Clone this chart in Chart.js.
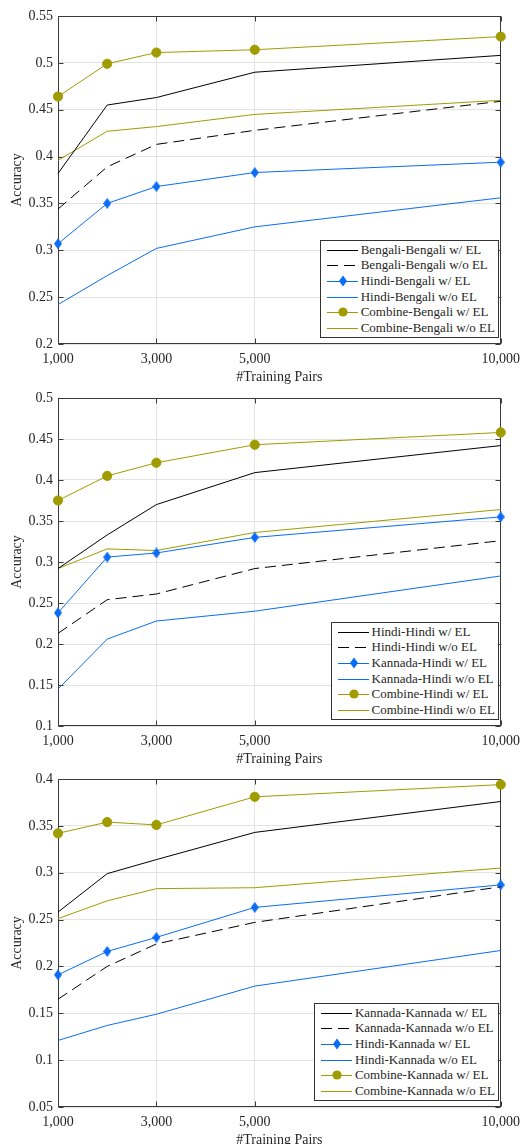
<!DOCTYPE html>
<html>
<head>
<meta charset="utf-8">
<script src="https://cdn.jsdelivr.net/npm/chart.js@4.4.1/dist/chart.umd.min.js"></script>
<style>
    html, body { margin: 0; padding: 0; background: #fff; }
    #wrap { position: relative; width: 527px; height: 1144px; overflow: hidden; }
    .panel { position: absolute; left: 0; width: 527px; height: 386px; }
    .panel canvas { position: absolute; left: 0; top: 0; }
    .legend {
        position: absolute; right: 28px; top: 240px;
        background: #fff; border: 1px solid #333;
        padding: 1px 3px 1px 6px;
        font: 13px "Liberation Serif", "Times New Roman", serif; color: #262626;
    }
    .legend .row { display: flex; align-items: center; height: 15.6px; white-space: nowrap; }
    .legend svg { flex: none; margin-right: 2px; }
</style>
</head>
<body>
<div id="wrap">
    <div class="panel" style="top:0"><canvas id="chart1" width="527" height="386"></canvas><div class="legend" id="legend1"></div></div>
    <div class="panel" style="top:382px"><canvas id="chart2" width="527" height="386"></canvas><div class="legend" id="legend2"></div></div>
    <div class="panel" style="top:763px"><canvas id="chart3" width="527" height="386"></canvas><div class="legend" id="legend3"></div></div>
</div>
<script>
const trainPairs = [1000, 2000, 3000, 5000, 10000];
const xTicks = [1000, 3000, 5000, 10000];

// Bengali
const bnBnEL   = [0.382, 0.455, 0.463, 0.490, 0.508];
const bnBnNoEL = [0.344, 0.389, 0.413, 0.428, 0.459];
const hiBnEL   = [0.307, 0.350, 0.368, 0.383, 0.394];
const hiBnNoEL = [0.242, 0.273, 0.302, 0.325, 0.356];
const coBnEL   = [0.464, 0.499, 0.511, 0.514, 0.528];
const coBnNoEL = [0.396, 0.427, 0.432, 0.445, 0.460];

// Hindi
const hiHiEL   = [0.292, 0.333, 0.370, 0.409, 0.442];
const hiHiNoEL = [0.213, 0.254, 0.261, 0.292, 0.326];
const knHiEL   = [0.238, 0.306, 0.311, 0.330, 0.355];
const knHiNoEL = [0.145, 0.206, 0.228, 0.240, 0.283];
const coHiEL   = [0.375, 0.405, 0.421, 0.443, 0.458];
const coHiNoEL = [0.292, 0.316, 0.314, 0.336, 0.364];

// Kannada
const knKnEL   = [0.258, 0.299, 0.314, 0.343, 0.376];
const knKnNoEL = [0.165, 0.200, 0.224, 0.247, 0.285];
const hiKnEL   = [0.191, 0.216, 0.231, 0.263, 0.287];
const hiKnNoEL = [0.121, 0.137, 0.149, 0.179, 0.217];
const coKnEL   = [0.342, 0.354, 0.351, 0.381, 0.394];
const coKnNoEL = [0.251, 0.270, 0.283, 0.284, 0.305];

const yRanges = [[0.2, 0.55], [0.1, 0.5], [0.05, 0.4]];

const BLACK = '#000000';
const BLUE = '#0a6cf5';
const OLIVE = '#a09c00';
const TEXT = '#262626';
const AXIS = '#3a3a3a';
const GRID = '#e4e4e4';
const FONT = '"Liberation Serif", "Times New Roman", serif';
const DASH = [11, 6];

function makeDiamond(color) {
    const c = document.createElement('canvas');
    c.width = 8; c.height = 11;
    const g = c.getContext('2d');
    g.fillStyle = color;
    g.beginPath();
    g.moveTo(4, 0); g.lineTo(8, 5.5); g.lineTo(4, 11); g.lineTo(0, 5.5);
    g.closePath();
    g.fill();
    return c;
}
const diamond = makeDiamond(BLUE);

// kind: 'solid' | 'dash' | 'diamond' | 'circle'
function series(label, data, color, kind) {
    const ds = {
        label: label,
        kind: kind,
        data: data.map((v, i) => ({ x: trainPairs[i], y: v })),
        borderColor: color,
        backgroundColor: color,
        borderWidth: 1,
        pointRadius: 0,
        tension: 0,
        clip: false
    };
    if (kind === 'dash') ds.borderDash = DASH;
    if (kind === 'diamond') { ds.pointStyle = diamond; ds.pointRadius = 5; }
    if (kind === 'circle') { ds.pointStyle = 'circle'; ds.pointRadius = 4.6; }
    return ds;
}

const boxPlugin = {
    id: 'box',
    beforeDatasetsDraw(chart) {
        const { ctx, chartArea: a, scales: { x, y } } = chart;
        const L = Math.round(a.left) + 0.5, R = Math.round(a.right) - 0.5;
        const T = Math.round(a.top) + 0.5, B = Math.round(a.bottom) - 0.5;
        ctx.save();
        ctx.strokeStyle = AXIS;
        ctx.lineWidth = 1;
        ctx.strokeRect(L, T, R - L, B - T);
        ctx.beginPath();
        y.ticks.forEach(t => {
            const py = Math.round(y.getPixelForValue(t.value)) + 0.5;
            ctx.moveTo(L, py); ctx.lineTo(L + 5, py);
            ctx.moveTo(R, py); ctx.lineTo(R - 5, py);
        });
        x.ticks.forEach(t => {
            const px = Math.round(x.getPixelForValue(t.value)) + 0.5;
            ctx.moveTo(px, B); ctx.lineTo(px, B - 5);
            ctx.moveTo(px, T); ctx.lineTo(px, T + 5);
        });
        ctx.stroke();
        ctx.restore();
    }
};

function renderChart(id, datasets, yRange) {
    const ctx = document.getElementById(id).getContext('2d');
    return new Chart(ctx, {
        type: 'line',
        data: { datasets: datasets },
        plugins: [boxPlugin],
        options: {
            responsive: false,
            animation: false,
            devicePixelRatio: 1,
            layout: { padding: { top: 16, right: 21, left: 0, bottom: 0 } },
            plugins: { legend: { display: false }, tooltip: { enabled: false } },
            scales: {
                x: {
                    type: 'linear',
                    min: trainPairs[0],
                    max: trainPairs[trainPairs.length - 1],
                    afterBuildTicks: scale => { scale.ticks = xTicks.map(v => ({ value: v })); },
                    afterFit: scale => { scale.height = 386 - 344; },
                    grid: { color: GRID, drawTicks: false },
                    border: { display: false },
                    ticks: {
                        color: TEXT, padding: 7, maxRotation: 0, autoSkip: false,
                        font: { family: FONT, size: 14 },
                        callback: v => v.toLocaleString('en-US')
                    },
                    title: {
                        display: true, text: '#Training Pairs', color: TEXT,
                        font: { family: FONT, size: 14 }, padding: { top: 0, bottom: 0 }
                    }
                },
                y: {
                    min: yRange[0],
                    max: yRange[1],
                    afterFit: scale => { scale.width = 58; },
                    grid: { color: GRID, drawTicks: false },
                    border: { display: false },
                    ticks: {
                        color: TEXT, padding: 5, stepSize: 0.05,
                        font: { family: FONT, size: 14 },
                        callback: v => String(+v.toFixed(2))
                    },
                    title: {
                        display: true, text: 'Accuracy', color: TEXT,
                        font: { family: FONT, size: 14 }, padding: { top: 9, bottom: 0 }
                    }
                }
            }
        }
    });
}

function renderLegend(id, datasets) {
    const container = document.getElementById(id);
    container.innerHTML = datasets.map(ds => {
        const c = ds.borderColor;
        let mark = '';
        if (ds.kind === 'diamond') mark = `<polygon points="16,2.5 20,8 16,13.5 12,8" fill="${c}"/>`;
        if (ds.kind === 'circle') mark = `<circle cx="16" cy="8" r="4.6" fill="${c}"/>`;
        const dash = ds.kind === 'dash' ? ` stroke-dasharray="${DASH.join(' ')}"` : '';
        return `
        <div class="row">
            <svg width="32" height="16"><line x1="0" y1="8.5" x2="31" y2="8.5" stroke="${c}" stroke-width="1"${dash}/>${mark}</svg>
            <span>${ds.label}</span>
        </div>`;
    }).join('');
}

const bengali = [
    series('Bengali-Bengali w/ EL', bnBnEL, BLACK, 'solid'),
    series('Bengali-Bengali w/o EL', bnBnNoEL, BLACK, 'dash'),
    series('Hindi-Bengali w/ EL', hiBnEL, BLUE, 'diamond'),
    series('Hindi-Bengali w/o EL', hiBnNoEL, BLUE, 'solid'),
    series('Combine-Bengali w/ EL', coBnEL, OLIVE, 'circle'),
    series('Combine-Bengali w/o EL', coBnNoEL, OLIVE, 'solid')
];
const hindi = [
    series('Hindi-Hindi w/ EL', hiHiEL, BLACK, 'solid'),
    series('Hindi-Hindi w/o EL', hiHiNoEL, BLACK, 'dash'),
    series('Kannada-Hindi w/ EL', knHiEL, BLUE, 'diamond'),
    series('Kannada-Hindi w/o EL', knHiNoEL, BLUE, 'solid'),
    series('Combine-Hindi w/ EL', coHiEL, OLIVE, 'circle'),
    series('Combine-Hindi w/o EL', coHiNoEL, OLIVE, 'solid')
];
const kannada = [
    series('Kannada-Kannada w/ EL', knKnEL, BLACK, 'solid'),
    series('Kannada-Kannada w/o EL', knKnNoEL, BLACK, 'dash'),
    series('Hindi-Kannada w/ EL', hiKnEL, BLUE, 'diamond'),
    series('Hindi-Kannada w/o EL', hiKnNoEL, BLUE, 'solid'),
    series('Combine-Kannada w/ EL', coKnEL, OLIVE, 'circle'),
    series('Combine-Kannada w/o EL', coKnNoEL, OLIVE, 'solid')
];

renderChart('chart1', bengali, yRanges[0]);
renderChart('chart2', hindi, yRanges[1]);
renderChart('chart3', kannada, yRanges[2]);
renderLegend('legend1', bengali);
renderLegend('legend2', hindi);
renderLegend('legend3', kannada);
</script>
</body>
</html>
